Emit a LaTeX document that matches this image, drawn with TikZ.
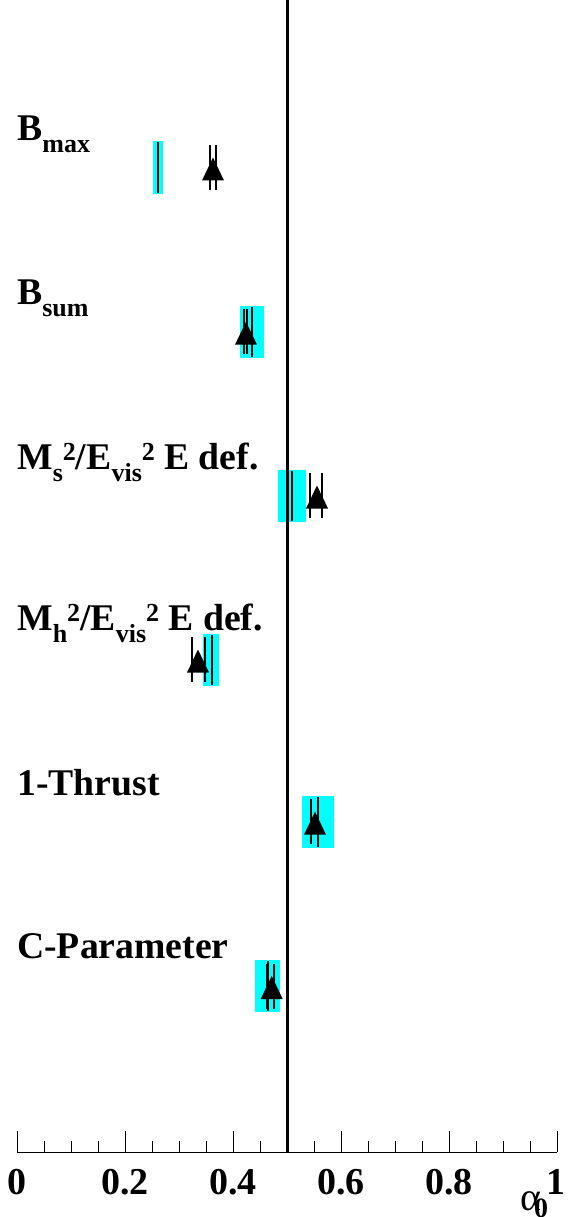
\documentclass[tikz,border=0pt]{standalone}
\usepackage{fontspec}
\setmainfont{Liberation Serif}
\definecolor{aqua}{RGB}{0,255,255}
\newcommand{\mysub}[1]{\raisebox{-12pt}{\fontsize{26}{26}\selectfont #1}}
\newcommand{\mysup}[1]{\raisebox{9pt}{\fontsize{26}{26}\selectfont #1}}
\begin{document}
\begin{tikzpicture}[x=1pt,y=-1pt,
  lbl/.style={anchor=base west,inner sep=0pt,font=\fontsize{37.7}{40}\selectfont\bfseries},
  ticklbl/.style={anchor=base,inner sep=0pt,font=\fontsize{38}{40}\selectfont\bfseries},
  band/.style={fill=aqua,draw=none},
  bar/.style={line width=2pt,black},
  tri/.style={fill=black,draw=none}]
\useasboundingbox (0,0) rectangle (568,1217);
% measurement bands and markers
\foreach \cy/\ca/\cb/\cl/\t/\ea/\eb in {
  167.5/153.3/162.7/158/213/210.3/216,
  331.7/240/264.3/252.3/246/244/247.3,
  495.5/277.7/305.7/291.7/317/310/322.3,
  659.5/203.3/219.3/211.5/198/192.3/205,
  821.7/302.3/334/318.2/315/311/318.3,
  986/255/280/267.5/271.7/267.3/274.3}{
  \fill[band] (\ca,\cy-26) rectangle (\cb,\cy+26);
  \draw[bar] (\cl,\cy-25) -- (\cl,\cy+25);
  \draw[bar] (\ea,\cy-22.5) -- (\ea,\cy+22.5);
  \draw[bar] (\eb,\cy-22.5) -- (\eb,\cy+22.5);
  \fill[tri] (\t-11,\cy+13) -- (\t+11,\cy+13) -- (\t,\cy-10) -- cycle;
}
% reference line at 0.5
\coordinate (top) at (287,0);
\coordinate (bot) at (287,1152);
\draw[line width=3pt] (top) -- (bot);
% axis
\coordinate (ax0) at (17,1152);
\coordinate (ax1) at (557,1152);
\draw[line width=1pt] (ax0) -- (ax1);
\foreach \i in {0,...,20}{
  \pgfmathsetmacro{\xx}{17+27*\i}
  \pgfmathtruncatemacro{\m}{mod(\i,4)}
  \ifnum\m=0
    \draw[line width=1pt] (\xx,1152) -- (\xx,1131);
  \else
    \draw[line width=1pt] (\xx,1152) -- (\xx,1141);
  \fi
}
\node[ticklbl] (t0) at (17,1194) {0};
\node[ticklbl] (t2) at (125,1194) {0.2};
\node[ticklbl] (t4) at (233,1194) {0.4};
\node[ticklbl] (t6) at (341,1194) {0.6};
\node[ticklbl] (t8) at (449,1194) {0.8};
\node[ticklbl] (t10) at (556,1194) {1};
\node[anchor=base west,inner sep=0pt,font=\fontsize{40}{40}\selectfont] (alpha) at (520,1210) {α};
\node[anchor=base west,inner sep=0pt,font=\fontsize{28}{28}\selectfont\bfseries] (alpha0) at (534,1217) {0};
% labels
\node[lbl] (bmax) at (17,141) {B\mysub{max}};
\node[lbl] (bsum) at (17,304) {B\mysub{sum}};
\node[lbl] (ms) at (17,469) {M\mysub{s}\mysup{2}/E\mysub{vis}\mysup{2} E def.};
\node[lbl] (mh) at (17,630) {M\mysub{h}\mysup{2}/E\mysub{vis}\mysup{2} E def.};
\node[lbl] (thr) at (17,795) {1-Thrust};
\node[lbl] (cpar) at (17,958) {C-Parameter};
\end{tikzpicture}
\end{document}
